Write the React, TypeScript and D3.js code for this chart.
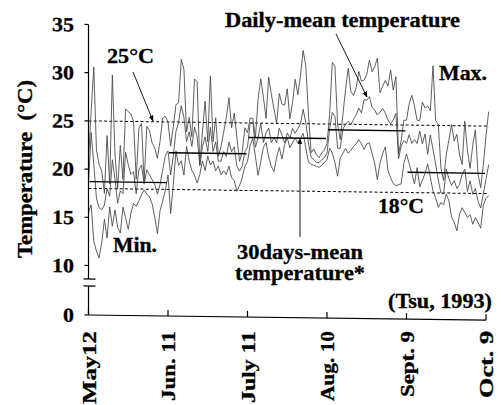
import React from "react";
import * as d3 from "d3";

const W = 501;
const H = 405;

// Daily temperatures (°C), Tsu 1993, starting May 12
const startDate = "1993-05-12";

const tmax = [
  21.0, 26.0, 30.6, 22.0, 20.5, 19.8, 17.5, 23.5, 18.5, 29.8,
  21.5, 18.0, 22.5, 19.0, 26.3, 26.0, 25.8, 25.0, 19.0, 24.3,
  24.8, 18.8, 24.5, 24.1, 22.8, 22.3, 21.2, 23.0, 25.4, 25.6,
  25.0, 22.5, 24.5, 26.8, 27.0, 31.5, 30.5, 24.0, 25.5, 23.5,
  29.5, 29.2, 20.6, 24.0, 27.2, 23.0, 29.8, 23.0, 25.5, 21.5,
  22.5, 24.0, 25.5, 27.6, 24.5, 26.0, 23.5, 21.0, 22.0, 24.5,
  24.0, 25.5, 25.5, 23.5, 27.5, 29.6, 27.7, 25.5, 29.8, 28.0,
  26.5, 25.0, 28.1, 27.0, 26.9, 28.6, 25.5, 27.2, 29.6, 28.0,
  30.0, 32.6, 31.0, 26.0, 22.0, 22.4, 21.8, 21.5, 22.0, 22.3,
  23.0, 26.0, 31.4, 31.0, 25.0, 23.4, 26.0, 28.6, 30.8, 28.4,
  28.0, 28.8, 30.5, 29.5, 29.6, 30.2, 31.7, 30.5, 31.0, 31.9,
  28.3, 29.0, 29.6, 29.0, 30.7, 28.6, 30.0, 22.0, 23.4, 25.5,
  25.5, 27.2, 28.1, 27.0, 25.5, 25.5, 27.4, 26.8, 27.0, 26.5,
  31.2, 25.5, 25.1, 20.6, 19.3, 22.0, 23.5, 25.1, 23.4, 24.1,
  22.0, 21.0, 25.5, 22.4, 20.6, 23.0, 24.6, 20.0, 18.6, 21.0, 24.0, 26.5,
];

const tmean = [
  18.5, 23.8, 20.5, 17.0, 16.0, 15.8, 16.3, 18.0, 17.2, 21.0,
  19.0, 16.5, 17.8, 17.5, 21.8, 20.5, 19.5, 19.8, 17.5, 20.0,
  20.5, 18.5, 20.0, 19.5, 19.0, 18.5, 17.5, 18.5, 20.0, 21.5,
  22.0, 19.5, 21.5, 24.0, 25.0, 26.7, 25.5, 23.0, 24.0, 22.5,
  24.5, 23.5, 20.5, 22.5, 23.5, 22.0, 24.5, 22.0, 23.0, 21.0,
  21.0, 22.0, 21.5, 23.0, 22.0, 22.5, 20.5, 20.0, 20.5, 22.0,
  22.5, 25.0, 25.1, 22.5, 23.5, 25.0, 23.0, 24.0, 24.5, 23.0,
  23.5, 23.0, 24.5, 23.8, 23.0, 24.0, 23.5, 24.5, 24.0, 24.5,
  25.0, 26.5, 25.1, 23.0, 21.5, 21.3, 21.0, 21.0, 21.3, 21.5,
  22.0, 24.5, 26.2, 25.8, 22.5, 22.5, 24.5, 25.0, 25.3, 25.0,
  25.5, 26.0, 26.7, 26.2, 27.6, 27.5, 27.9, 26.8, 26.5, 26.0,
  26.3, 26.7, 26.2, 25.5, 25.1, 25.5, 26.2, 21.5, 22.8, 23.4,
  23.1, 24.0, 23.1, 23.5, 23.1, 24.4, 23.1, 24.1, 22.0, 24.0,
  22.5, 21.0, 19.3, 18.0, 17.9, 20.5, 19.5, 18.8, 19.3, 18.5,
  18.9, 20.0, 20.5, 18.2, 19.3, 17.9, 18.5, 17.2, 16.5, 18.0, 19.5, 21.0,
];

const tmin = [
  15.5, 16.3, 12.5, 11.5, 10.8, 12.4, 14.8, 12.9, 16.1, 14.1,
  15.8, 14.0, 13.4, 16.1, 15.0, 13.8, 15.5, 16.5, 16.2, 16.8,
  17.4, 17.9, 17.5, 17.2, 16.5, 15.1, 13.4, 15.8, 16.8, 17.9,
  19.5, 15.5, 18.5, 22.0, 20.5, 21.0, 19.5, 22.5, 21.0, 20.0,
  19.5, 18.7, 19.6, 21.0, 20.0, 21.5, 20.6, 21.0, 20.0, 20.5,
  19.6, 20.0, 19.6, 20.5, 19.3, 19.0, 17.9, 18.5, 19.3, 20.5,
  21.0, 22.7, 23.4, 21.5, 19.6, 21.0, 22.5, 23.0, 21.5, 20.5,
  20.0, 21.5, 22.5, 21.3, 22.8, 23.5, 22.5, 23.0, 23.5, 23.0,
  23.5, 24.0, 22.5, 21.0, 20.8, 20.7, 20.6, 20.5, 20.7, 21.0,
  21.3, 22.5, 22.0, 21.0, 19.6, 21.5, 22.0, 22.5, 22.0, 22.3,
  22.7, 23.0, 23.4, 23.0, 22.4, 23.0, 23.1, 22.0, 21.0, 19.3,
  21.0, 22.0, 22.7, 20.3, 19.5, 18.9, 18.7, 18.8, 18.9, 21.0,
  22.0, 21.0, 20.0, 18.9, 20.6, 18.6, 19.3, 20.0, 21.0, 19.6,
  18.2, 17.5, 16.5, 17.0, 16.8, 17.9, 17.2, 15.5, 15.0, 14.1,
  15.8, 16.5, 16.0, 15.5, 15.8, 14.8, 15.5, 15.0, 14.4, 16.8, 17.5, 17.8,
];

// 30-day mean temperature for each period
const periodStarts = ["1993-05-12", "1993-06-11", "1993-07-11", "1993-08-10", "1993-09-09"];
const periodEnds = ["1993-06-11", "1993-07-11", "1993-08-10", "1993-09-09", "1993-10-09"];
const periodMeans = [18.7, 21.8, 23.5, 24.4, 20.1];

const thresholds = [25, 18];

const tickDates = ["1993-05-12", "1993-06-11", "1993-07-11", "1993-08-10", "1993-09-09", "1993-10-09"];
const tickLabels = ["May12", "Jun. 11", "July 11", "Aug. 10", "Sept. 9", "Oct. 9"];
const tickLabelLengths = [73, 70, 72, 70, 66, 67];
const yTicks = [0, 10, 15, 20, 25, 30, 35];

const FONT = "Liberation Serif, Times New Roman, DejaVu Serif, serif";

const parse = d3.utcParse("%Y-%m-%d");

export default function App() {
  const t0 = parse(startDate) as Date;
  const x = d3
    .scaleUtc()
    .domain([parse(tickDates[0]) as Date, parse(tickDates[tickDates.length - 1]) as Date])
    .range([88.5, 486]);
  // broken axis: 0–10 compressed below the break
  const y = d3.scaleLinear().domain([0, 10, 35]).range([315, 265.5, 24.5]);

  const dayDate = (i: number) => d3.utcDay.offset(t0, i);
  const line = d3
    .line<number>()
    .x((_, i) => x(dayDate(i)))
    .y((v) => y(v));

  const series = [tmax, tmean, tmin];
  const x0 = x.range()[0];
  const x1 = x.range()[1];
  const breakTop = 279;
  const breakBot = 286;

  const textStyle = {
    style: { fontFamily: FONT, fontWeight: 700, fontSize: "20px" },
    fill: "#000",
    stroke: "#000",
    strokeWidth: 0.3,
  };

  const notes = [
    { text: "Daily-mean temperature", x: 225, y: 27, len: 235 },
    { text: "25\u00B0C", x: 107, y: 63, len: 47 },
    { text: "Max.", x: 439, y: 80, len: 48 },
    { text: "Min.", x: 113, y: 252, len: 44 },
    { text: "18\u00B0C", x: 378, y: 213, len: 46 },
    { text: "30days-mean", x: 237, y: 259, len: 126 },
    { text: "temperature*", x: 235, y: 280, len: 130 },
    { text: "(Tsu, 1993)", x: 388, y: 308, len: 104 },
  ];

  const arrows = [
    { x1: 133, y1: 72, x2: 153, y2: 121 },
    { x1: 336, y1: 34, x2: 367, y2: 97 },
    { x1: 300, y1: 237, x2: 300, y2: 139 },
  ];

  return (
    <svg
      width={W}
      height={H}
      viewBox={`0 0 ${W} ${H}`}
      style={{ position: "absolute", left: 0, top: 0, background: "#fff" }}
    >
      <defs>
        <marker
          id="head"
          viewBox="0 0 10 10"
          refX="9"
          refY="5"
          markerWidth="6"
          markerHeight="6"
          orient="auto"
          markerUnits="userSpaceOnUse"
        >
          <path d="M0,1 L10,5 L0,9 Z" fill="#000" />
        </marker>
      </defs>
      <rect width={W} height={H} fill="#fff" />

      <g transform={`translate(${x0},0) skewY(0.75) translate(${-x0},0)`}>
        {/* threshold lines */}
        {thresholds.map((t) => (
          <line
            key={t}
            x1={x0}
            x2={x1 + 3}
            y1={y(t)}
            y2={y(t)}
            stroke="#000"
            strokeWidth={1}
            strokeDasharray="3,2.2"
          />
        ))}

        {/* daily max / mean / min */}
        {series.map((s, k) => (
          <path key={k} d={line(s) || ""} fill="none" stroke="#444" strokeWidth={0.85} strokeLinejoin="round" />
        ))}

        {/* 30-day means */}
        {periodMeans.map((m, i) => (
          <line
            key={i}
            x1={x(parse(periodStarts[i]) as Date) + 1}
            x2={x(parse(periodEnds[i]) as Date) - 1}
            y1={y(m)}
            y2={y(m)}
            stroke="#000"
            strokeWidth={1.4}
          />
        ))}

        {/* y axis with break */}
        <line x1={x0} x2={x0} y1={y(35)} y2={breakTop} stroke="#000" strokeWidth={1.2} />
        <line x1={x0} x2={x0} y1={breakBot} y2={y(0)} stroke="#000" strokeWidth={1.2} />
        <line x1={x0 - 5} x2={x0 + 7} y1={breakTop} y2={breakTop} stroke="#000" strokeWidth={1.2} />
        <line x1={x0 - 5} x2={x0 + 7} y1={breakBot} y2={breakBot} stroke="#000" strokeWidth={1.2} />
        {yTicks.map((t) => (
          <g key={t}>
            <line x1={x0 - 4} x2={x0} y1={y(t)} y2={y(t)} stroke="#000" strokeWidth={1.2} />
            <text
              x={74}
              y={y(t)}
              dy="0.35em"
              textAnchor="end"
              {...textStyle}
              textLength={t < 10 ? 11 : 22}
              lengthAdjust="spacingAndGlyphs"
            >
              {t}
            </text>
          </g>
        ))}

        {/* x axis */}
        <line x1={x0} x2={x1} y1={y(0)} y2={y(0)} stroke="#000" strokeWidth={1.2} />
        {tickDates.map((d) => (
          <line
            key={d}
            x1={x(parse(d) as Date)}
            x2={x(parse(d) as Date)}
            y1={y(0)}
            y2={y(0) - 6}
            stroke="#000"
            strokeWidth={1.2}
          />
        ))}
      </g>

      {/* date labels */}
      {tickDates.map((d, i) => (
        <text
          key={d}
          transform={`translate(${x(parse(d) as Date) + 7},${331}) rotate(-90)`}
          textAnchor="end"
          style={{ fontFamily: FONT, fontWeight: 700, fontSize: "18px" }}
          stroke="#000"
          strokeWidth={0.3}
          textLength={tickLabelLengths[i]}
          lengthAdjust="spacingAndGlyphs"
        >
          {tickLabels[i]}
        </text>
      ))}

      {/* y title */}
      <text
        transform={`translate(32,169) rotate(-90)`}
        textAnchor="middle"
        {...textStyle}
        textLength={178}
        lengthAdjust="spacingAndGlyphs"
      >
        {"Temperature\u00A0\u00A0(\u00B0C)"}
      </text>

      {notes.map((n) => (
        <text key={n.text} x={n.x} y={n.y} {...textStyle} textLength={n.len} lengthAdjust="spacingAndGlyphs">
          {n.text}
        </text>
      ))}

      {arrows.map((a, i) => (
        <line
          key={i}
          x1={a.x1}
          y1={a.y1}
          x2={a.x2}
          y2={a.y2}
          stroke="#000"
          strokeWidth={0.9}
          markerEnd="url(#head)"
        />
      ))}
    </svg>
  );
}
